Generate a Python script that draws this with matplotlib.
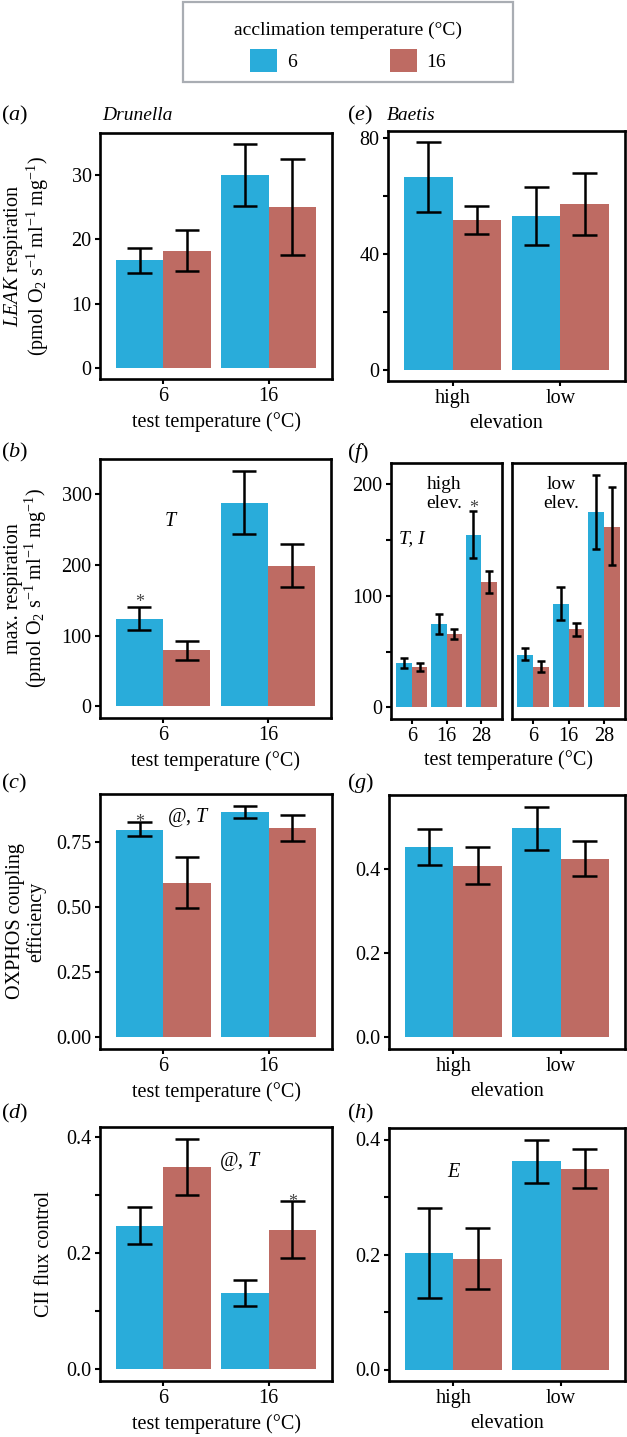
import numpy as np
import matplotlib
matplotlib.use("Agg")
import matplotlib.pyplot as plt
from matplotlib.patches import Patch, Rectangle

plt.rcParams['font.family'] = ['Liberation Serif', 'DejaVu Serif']
plt.rcParams['mathtext.fontset'] = 'custom'
plt.rcParams['mathtext.rm'] = 'Liberation Serif'
plt.rcParams['mathtext.it'] = 'Liberation Serif:italic'

BLUE = '#29ACDA'
RED = '#BE6B63'
FS = 14.5

# categories
temps = ['6', '16']
elevs = ['high', 'low']
temps3 = ['6', '16', '28']

# (a) LEAK respiration, Drunella  (acclimation 6 / 16)
leak_d_6 = [16.7, 30.0]
leak_d_6_lo = [14.8, 25.2]
leak_d_6_hi = [18.7, 34.8]
leak_d_16 = [18.2, 25.0]
leak_d_16_lo = [15.1, 17.5]
leak_d_16_hi = [21.4, 32.5]

# (e) LEAK respiration, Baetis
leak_b_6 = [66.4, 53.0]
leak_b_6_lo = [54.5, 43.1]
leak_b_6_hi = [78.4, 63.1]
leak_b_16 = [51.6, 57.0]
leak_b_16_lo = [46.8, 46.6]
leak_b_16_hi = [56.5, 67.8]

# (b) max respiration, Drunella
max_d_6 = [124, 288]
max_d_6_lo = [108, 244]
max_d_6_hi = [141, 333]
max_d_16 = [79, 199]
max_d_16_lo = [66, 169]
max_d_16_hi = [92, 229]

# (f) max respiration, Baetis, high elevation
max_bh_6 = [40.1, 74.7, 154.8]
max_bh_6_lo = [35.6, 65.4, 134.3]
max_bh_6_hi = [44.3, 83.5, 176.2]
max_bh_16 = [36.1, 65.4, 112.4]
max_bh_16_lo = [32.5, 60.9, 102.4]
max_bh_16_hi = [39.7, 69.9, 122.0]
# (f) low elevation
max_bl_6 = [47.3, 93.0, 175.0]
max_bl_6_lo = [42.2, 78.0, 141.8]
max_bl_6_hi = [53.0, 107.9, 208.7]
max_bl_16 = [36.1, 69.9, 162.0]
max_bl_16_lo = [31.6, 64.1, 127.4]
max_bl_16_hi = [41.6, 75.9, 197.3]

# (c) OXPHOS coupling efficiency, Drunella
ox_d_6 = [0.796, 0.864]
ox_d_6_lo = [0.771, 0.840]
ox_d_6_hi = [0.825, 0.888]
ox_d_16 = [0.593, 0.802]
ox_d_16_lo = [0.495, 0.754]
ox_d_16_hi = [0.692, 0.853]

# (g) OXPHOS coupling efficiency, Baetis
ox_b_6 = [0.451, 0.496]
ox_b_6_lo = [0.409, 0.444]
ox_b_6_hi = [0.494, 0.548]
ox_b_16 = [0.407, 0.424]
ox_b_16_lo = [0.364, 0.382]
ox_b_16_hi = [0.451, 0.467]

# (d) CII flux control, Drunella
cii_d_6 = [0.2475, 0.1315]
cii_d_6_lo = [0.216, 0.1096]
cii_d_6_hi = [0.280, 0.1536]
cii_d_16 = [0.349, 0.2405]
cii_d_16_lo = [0.300, 0.192]
cii_d_16_hi = [0.398, 0.290]

# (h) CII flux control, Baetis
cii_b_6 = [0.2026, 0.362]
cii_b_6_lo = [0.125, 0.325]
cii_b_6_hi = [0.281, 0.400]
cii_b_16 = [0.192, 0.349]
cii_b_16_lo = [0.140, 0.3155]
cii_b_16_hi = [0.246, 0.384]

W, H = 627, 1437
fig = plt.figure(figsize=(W / 100, H / 100), dpi=100)


def add_ax(l, t, r, b):
    return fig.add_axes([l / W, 1 - b / H, (r - l) / W, (b - t) / H])


def ftext(x, y, s, **kw):
    fig.text(x / W, 1 - y / H, s, **kw)


def bars(ax, cats, m6, lo6, hi6, m16, lo16, hi16, ymax=None):
    x = np.arange(len(cats))
    for off, m, lo, hi, col in [(-0.225, m6, lo6, hi6, BLUE),
                                (0.225, m16, lo16, hi16, RED)]:
        xs = x + off
        ax.bar(xs, m, width=0.45, color=col, linewidth=0, zorder=2)
        ax.vlines(xs, lo, hi, color='black', lw=1.8, zorder=3)
        ax.hlines(lo, xs - 0.115, xs + 0.115, color='black', lw=1.8, zorder=3)
        ax.hlines(hi, xs - 0.115, xs + 0.115, color='black', lw=1.8, zorder=3)
    top = ymax if ymax is not None else max(max(hi6), max(hi16))
    ax.set_ylim(-0.05 * top, 1.05 * top)
    ax.set_xlim(-0.6, len(cats) - 0.4)
    ax.set_xticks(x, cats)
    for sp in ax.spines.values():
        sp.set_linewidth(1.9)
    ax.tick_params(axis='both', length=3.5, width=1.5, labelsize=FS,
                   colors='black')
    ax.tick_params(axis='x', pad=2)
    ax.tick_params(axis='y', pad=2.5)


def yticks(ax, vals, labels):
    ax.set_yticks(vals, labels)


ax_a = add_ax(100, 133, 332, 379)
ax_e = add_ax(388, 131, 625, 381)
ax_b = add_ax(100, 459, 331, 718)
ax_f1 = add_ax(391, 463, 502, 719)
ax_f2 = add_ax(512, 463, 625, 719)
ax_c = add_ax(100, 794, 332, 1049)
ax_g = add_ax(389, 795, 625, 1049)
ax_d = add_ax(100, 1127, 332, 1381)
ax_h = add_ax(389, 1128, 625, 1381)

bars(ax_a, temps, leak_d_6, leak_d_6_lo, leak_d_6_hi, leak_d_16, leak_d_16_lo, leak_d_16_hi)
bars(ax_e, elevs, leak_b_6, leak_b_6_lo, leak_b_6_hi, leak_b_16, leak_b_16_lo, leak_b_16_hi)
bars(ax_b, temps, max_d_6, max_d_6_lo, max_d_6_hi, max_d_16, max_d_16_lo, max_d_16_hi)
f_top = max(max_bh_6_hi + max_bh_16_hi + max_bl_6_hi + max_bl_16_hi)
bars(ax_f1, temps3, max_bh_6, max_bh_6_lo, max_bh_6_hi, max_bh_16, max_bh_16_lo, max_bh_16_hi, f_top)
bars(ax_f2, temps3, max_bl_6, max_bl_6_lo, max_bl_6_hi, max_bl_16, max_bl_16_lo, max_bl_16_hi, f_top)
bars(ax_c, temps, ox_d_6, ox_d_6_lo, ox_d_6_hi, ox_d_16, ox_d_16_lo, ox_d_16_hi)
bars(ax_g, elevs, ox_b_6, ox_b_6_lo, ox_b_6_hi, ox_b_16, ox_b_16_lo, ox_b_16_hi)
bars(ax_d, temps, cii_d_6, cii_d_6_lo, cii_d_6_hi, cii_d_16, cii_d_16_lo, cii_d_16_hi)
bars(ax_h, elevs, cii_b_6, cii_b_6_lo, cii_b_6_hi, cii_b_16, cii_b_16_lo, cii_b_16_hi)

yticks(ax_a, [0, 10, 20, 30], ['0', '10', '20', '30'])
yticks(ax_e, [0, 20, 40, 60, 80], ['0', '', '40', '', '80'])
yticks(ax_b, [0, 100, 200, 300], ['0', '100', '200', '300'])
yticks(ax_f1, [0, 50, 100, 150, 200], ['0', '', '100', '', '200'])
ax_f2.set_yticks([])
yticks(ax_c, [0, 0.25, 0.5, 0.75], ['0.00', '0.25', '0.50', '0.75'])
yticks(ax_g, [0, 0.2, 0.4], ['0.0', '0.2', '0.4'])
yticks(ax_d, [0, 0.1, 0.2, 0.3, 0.4], ['0.0', '', '0.2', '', '0.4'])
yticks(ax_h, [0, 0.1, 0.2, 0.3, 0.4], ['0.0', '', '0.2', '', '0.4'])

# axis titles
for ax in [ax_a, ax_b, ax_c, ax_d]:
    ax.set_xlabel('test temperature (°C)', fontsize=FS, labelpad=4.5)
for ax in [ax_e, ax_g, ax_h]:
    ax.set_xlabel('elevation', fontsize=FS, labelpad=4.5)
ftext(508, 760, 'test temperature (°C)', fontsize=FS, ha='center', va='center')

unit = '(pmol O$_2$ s$^{-1}$ ml$^{-1}$ mg$^{-1}$)'
ax_a.set_ylabel('$\\it{LEAK}$ respiration\n' + unit, fontsize=FS, va='center',
                linespacing=1.0)
ax_b.set_ylabel('max. respiration\n' + unit, fontsize=FS, va='center',
                linespacing=1.0)
ax_c.set_ylabel('OXPHOS coupling\nefficiency', fontsize=FS, va='center',
                linespacing=1.05)
ax_d.set_ylabel('CII flux control', fontsize=FS, va='center')
for ax in [ax_a, ax_b, ax_c]:
    ax.yaxis.set_label_coords(-0.318, 0.5)
ax_d.yaxis.set_label_coords(-0.24, 0.5)

# panel letters and taxa
for x, y, s in [(1, 115, 'a'), (347, 115, 'e'), (1, 452, 'b'), (347, 453, 'f'),
                (1, 783, 'c'), (347, 783, 'g'), (1, 1113, 'd'), (347, 1113, 'h')]:
    ftext(x, y, '($\\it{%s}$)' % s, fontsize=16, ha='left', va='center')
ftext(102, 115, 'Drunella', fontsize=14, style='italic', ha='left', va='center')
ftext(387, 115, 'Baetis', fontsize=14, style='italic', ha='left', va='center')

# statistical annotations
ax_b.text(0.07, 261, 'T', fontsize=FS, style='italic', ha='center', va='center')
ax_b.text(-0.225, 146, '*', fontsize=13, color='#444444', ha='center', va='center')
ax_c.text(0.24, 0.841, '@, $\\it{T}$', fontsize=FS, ha='center', va='center')
ax_c.text(-0.225, 0.825, '*', fontsize=13, color='#444444', ha='center', va='center')
ax_d.text(0.73, 0.359, '@, $\\it{T}$', fontsize=FS, ha='center', va='center')
ax_d.text(1.225, 0.288, '*', fontsize=13, color='#444444', ha='center', va='center')
ax_f1.text(0.94, 191, 'high\nelev.', fontsize=14, ha='center', va='center', linespacing=1.15)
ax_f1.text(1.775, 178, '*', fontsize=13, color='#444444', ha='center', va='center')
ax_f1.text(0.0, 151, 'T, I', fontsize=14, style='italic', ha='center', va='center')
ax_f2.text(0.8, 191, 'low\nelev.', fontsize=14, ha='center', va='center', linespacing=1.15)
ax_h.text(0.0, 0.343, 'E', fontsize=FS, style='italic', ha='center', va='center')

# legend
handles = [Patch(facecolor=BLUE, edgecolor='none'), Patch(facecolor=RED, edgecolor='none')]
fig.legend(handles, ['6', '16'], title='acclimation temperature (°C)',
           loc='center', bbox_to_anchor=(348 / W, 1 - 47 / H), ncol=2,
           frameon=False, fontsize=14, title_fontsize=14, handlelength=1.4,
           handleheight=1.45, handletextpad=0.5, columnspacing=4.8)
fig.add_artist(Rectangle((183 / W, 1 - 82 / H), 330 / W, 80 / H,
                         transform=fig.transFigure, fill=False,
                         edgecolor='#A9ADB3', linewidth=1.6))

fig.savefig('out.png', dpi=100)
